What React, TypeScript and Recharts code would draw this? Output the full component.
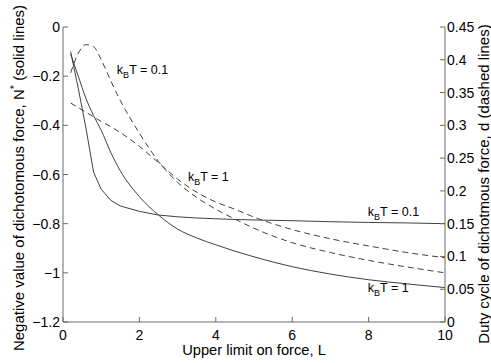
import {
  ComposedChart,
  Line,
  XAxis,
  YAxis,
  ReferenceDot,
} from "recharts";

const L = [0.2, 0.4, 0.6, 0.8, 1, 1.25, 1.5, 2, 2.5, 3, 3.5, 4, 4.5, 5, 6, 7, 8, 9, 10];

// N* (left axis, solid)
const forceLowT = [-0.1, -0.25, -0.41, -0.59, -0.66, -0.705, -0.728, -0.75, -0.765, -0.772, -0.777, -0.78, -0.783, -0.785, -0.788, -0.792, -0.795, -0.797, -0.8];
const forceHighT = [-0.11, -0.2, -0.29, -0.36, -0.42, -0.51, -0.585, -0.69, -0.765, -0.822, -0.858, -0.886, -0.912, -0.935, -0.975, -1.005, -1.028, -1.045, -1.06];

// duty cycle d (right axis, dashed)
const dutyLowT = [0.38, 0.41, 0.423, 0.42, 0.4, 0.368, 0.338, 0.288, 0.245, 0.213, 0.19, 0.172, 0.157, 0.143, 0.121, 0.106, 0.094, 0.084, 0.075];
const dutyHighT = [0.334, 0.327, 0.32, 0.313, 0.306, 0.298, 0.289, 0.268, 0.243, 0.218, 0.198, 0.183, 0.172, 0.16, 0.141, 0.127, 0.116, 0.106, 0.098];

const xTicks = [0, 2, 4, 6, 8, 10];
const leftTicks = [-1.2, -1, -0.8, -0.6, -0.4, -0.2, 0];
const rightTicks = [0, 0.05, 0.1, 0.15, 0.2, 0.25, 0.3, 0.35, 0.4, 0.45];

const data = L.map((x, i) => ({
  L: x,
  nLow: forceLowT[i],
  nHigh: forceHighT[i],
  dLow: dutyLowT[i],
  dHigh: dutyHighT[i],
}));

const FONT = '"Liberation Sans", Arial, Helvetica, sans-serif';
const AXIS = "#6a6a6a";
const CURVE = "#404040";

const fmt = (v: number) => (v < 0 ? `\u2212${Math.abs(v)}` : `${v}`);

const LeftTick = ({ x, y, payload }: any) => (
  <g>
    <line x1={x} x2={x + 5} y1={y} y2={y} stroke={AXIS} />
    <text x={x - 3} y={y} dy="0.36em" textAnchor="end" fontSize={14} fontFamily={FONT} fill="#000">
      {fmt(payload.value)}
    </text>
  </g>
);

const RightTick = ({ x, y, payload }: any) => (
  <g>
    <line x1={x - 5} x2={x} y1={y} y2={y} stroke={AXIS} />
    <text x={x + 2} y={y} dy="0.36em" textAnchor="start" fontSize={14} fontFamily={FONT} fill="#000">
      {fmt(payload.value)}
    </text>
  </g>
);

const BottomTick = ({ x, y, payload }: any) => (
  <g>
    <line x1={x} x2={x} y1={y - 5} y2={y} stroke={AXIS} />
    <text x={x} y={y + 18} textAnchor="middle" fontSize={14} fontFamily={FONT} fill="#000">
      {payload.value}
    </text>
  </g>
);

const kbt = (value: string) => (p: any) => (
  <text x={p.cx} y={p.cy} fontSize={12.5} fontFamily={FONT} fill="#000">
    k
    <tspan fontSize={9} dy={4}>B</tspan>
    <tspan dy={-4}>T = {value}</tspan>
  </text>
);

export default function App() {
  return (
    <div style={{ position: "absolute", left: 0, top: 0, background: "#fff" }}>
      <ComposedChart
        width={491}
        height={363}
        data={data}
        margin={{ top: 27, right: 6, bottom: 11, left: 23 }}
      >
        <XAxis
          dataKey="L"
          type="number"
          domain={[0, 10]}
          ticks={xTicks}
          tickSize={0}
          tickMargin={0}
          tickLine={false}
          height={30}
          axisLine={{ stroke: AXIS }}
          tick={<BottomTick />}
          label={{
            content: () => (
              <text x={254} y={355} textAnchor="middle" fontSize={14.7} fontFamily={FONT} fill="#000">
                Upper limit on force, L
              </text>
            ),
          }}
        />
        <YAxis
          yAxisId="left"
          orientation="left"
          domain={[-1.2, 0]}
          ticks={leftTicks}
          width={40}
          tickSize={0}
          tickMargin={0}
          tickLine={false}
          axisLine={{ stroke: AXIS }}
          tick={<LeftTick />}
          label={{
            content: () => (
              <text
                transform="translate(24,178) rotate(-90)"
                textAnchor="middle"
                fontSize={15}
                fontFamily={FONT}
                fill="#000"
              >
                Negative value of dichotomous force, N
                <tspan fontSize={11} dy={-6}>*</tspan>
                <tspan dy={6}> (solid lines)</tspan>
              </text>
            ),
          }}
        />
        <YAxis
          yAxisId="right"
          orientation="right"
          domain={[0, 0.45]}
          ticks={rightTicks}
          width={40}
          tickSize={0}
          tickMargin={0}
          tickLine={false}
          axisLine={{ stroke: AXIS }}
          tick={<RightTick />}
          label={{
            content: () => (
              <text
                transform="translate(483,184) rotate(-90)"
                textAnchor="middle"
                dominantBaseline="central"
                fontSize={15}
                fontFamily={FONT}
                fill="#000"
              >
                Duty cycle of dichotmous force, d (dashed lines)
              </text>
            ),
          }}
        />
        <Line yAxisId="left" dataKey="nLow" stroke={CURVE} strokeWidth={1} dot={false} isAnimationActive={false} type="linear" />
        <Line yAxisId="left" dataKey="nHigh" stroke={CURVE} strokeWidth={1} dot={false} isAnimationActive={false} type="monotone" />
        <Line yAxisId="right" dataKey="dLow" stroke={CURVE} strokeWidth={1} strokeDasharray="6 4" dot={false} isAnimationActive={false} type="monotone" />
        <Line yAxisId="right" dataKey="dHigh" stroke={CURVE} strokeWidth={1} strokeDasharray="6 4" dot={false} isAnimationActive={false} type="monotone" />
        <ReferenceDot yAxisId="left" x={1.41} y={-0.191} r={0} shape={kbt("0.1")} />
        <ReferenceDot yAxisId="left" x={3.27} y={-0.626} r={0} shape={kbt("1")} />
        <ReferenceDot yAxisId="left" x={7.98} y={-0.769} r={0} shape={kbt("0.1")} />
        <ReferenceDot yAxisId="left" x={7.98} y={-1.078} r={0} shape={kbt("1")} />
      </ComposedChart>
    </div>
  );
}
